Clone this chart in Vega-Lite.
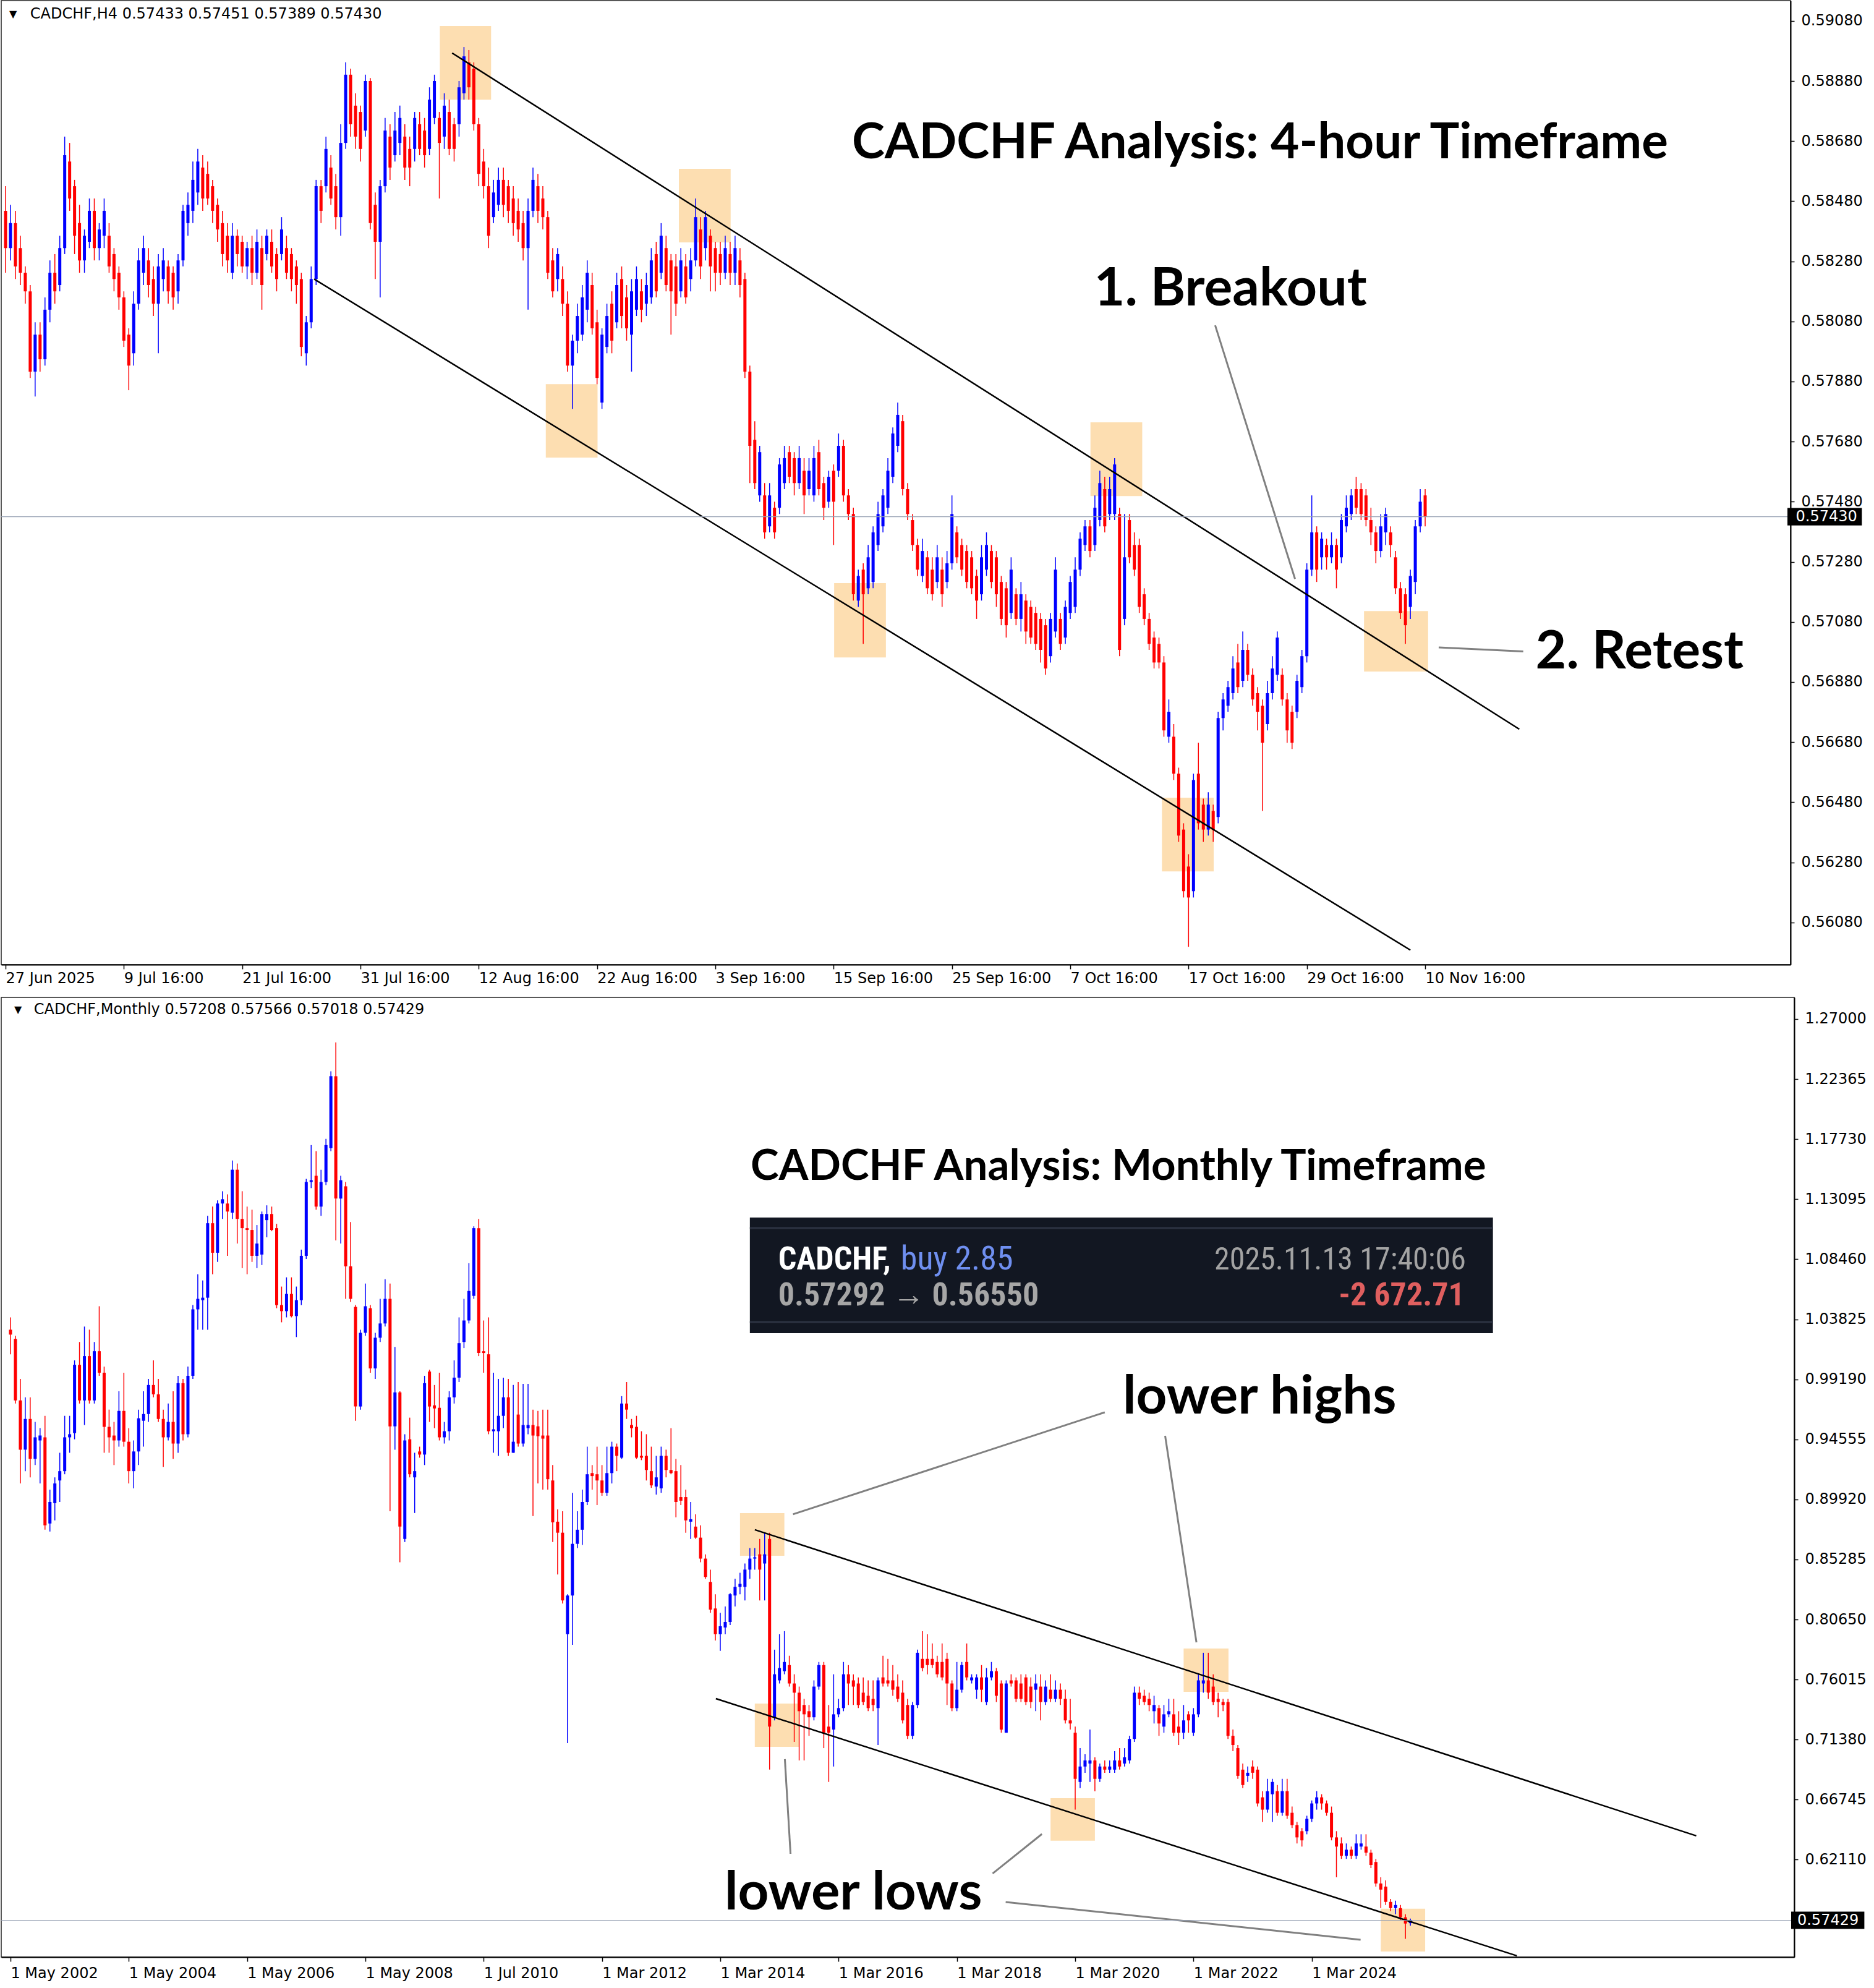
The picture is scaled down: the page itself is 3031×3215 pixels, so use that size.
{
"$schema":"https://vega.github.io/schema/vega-lite/v6.json",
"padding":0,
"background":"white",
"spacing":53,
"bounds":"flush",
"config":{
 "view":{"stroke":"#222222","strokeWidth":1.5},
 "axis":{"grid":false,"labelFont":"DejaVu Sans","labelFontSize":24,"labelColor":"#000000","domainColor":"#000000","domainWidth":2,"tickColor":"#000000","tickWidth":1.5,"tickSize":6,"title":null,"labelOverlap":false}
},
"datasets":{
"h4":[
{"i":0,"o":0.58448,"h":0.5853,"l":0.58242,"c":0.58324},
{"i":1,"o":0.58324,"h":0.58468,"l":0.58283,"c":0.58407},
{"i":2,"o":0.58407,"h":0.58448,"l":0.58221,"c":0.58263},
{"i":3,"o":0.58324,"h":0.58365,"l":0.58201,"c":0.58242},
{"i":4,"o":0.58242,"h":0.58263,"l":0.58139,"c":0.5818},
{"i":5,"o":0.5818,"h":0.58201,"l":0.57892,"c":0.57913},
{"i":6,"o":0.57913,"h":0.58077,"l":0.5783,"c":0.58036},
{"i":7,"o":0.58036,"h":0.58077,"l":0.57913,"c":0.57954},
{"i":8,"o":0.57954,"h":0.5816,"l":0.57933,"c":0.58119},
{"i":9,"o":0.58119,"h":0.58283,"l":0.58077,"c":0.58242},
{"i":10,"o":0.58242,"h":0.58304,"l":0.58139,"c":0.5818},
{"i":11,"o":0.58201,"h":0.58365,"l":0.5818,"c":0.58324},
{"i":12,"o":0.58324,"h":0.58695,"l":0.58304,"c":0.58633},
{"i":13,"o":0.58612,"h":0.58674,"l":0.58448,"c":0.58489},
{"i":14,"o":0.5853,"h":0.58551,"l":0.58304,"c":0.58365},
{"i":15,"o":0.58407,"h":0.58468,"l":0.58242,"c":0.58283},
{"i":16,"o":0.58283,"h":0.58386,"l":0.58242,"c":0.58365},
{"i":17,"o":0.58345,"h":0.58489,"l":0.58324,"c":0.58448},
{"i":18,"o":0.58448,"h":0.58489,"l":0.58283,"c":0.58324},
{"i":19,"o":0.58324,"h":0.58407,"l":0.58283,"c":0.58386},
{"i":20,"o":0.58365,"h":0.58489,"l":0.58324,"c":0.58448},
{"i":21,"o":0.58365,"h":0.58407,"l":0.58242,"c":0.58263},
{"i":22,"o":0.58304,"h":0.58324,"l":0.5818,"c":0.58221},
{"i":23,"o":0.58242,"h":0.58263,"l":0.58119,"c":0.5816},
{"i":24,"o":0.5816,"h":0.5818,"l":0.57995,"c":0.58016},
{"i":25,"o":0.58036,"h":0.58057,"l":0.57851,"c":0.57933},
{"i":26,"o":0.57974,"h":0.5818,"l":0.57933,"c":0.58139},
{"i":27,"o":0.58139,"h":0.58324,"l":0.58119,"c":0.58283},
{"i":28,"o":0.58242,"h":0.58365,"l":0.58201,"c":0.58324},
{"i":29,"o":0.58283,"h":0.58324,"l":0.5816,"c":0.58201},
{"i":30,"o":0.58221,"h":0.58263,"l":0.58098,"c":0.58139},
{"i":31,"o":0.58139,"h":0.58304,"l":0.57974,"c":0.58263},
{"i":32,"o":0.58221,"h":0.58324,"l":0.5818,"c":0.58283},
{"i":33,"o":0.58263,"h":0.58283,"l":0.58139,"c":0.5818},
{"i":34,"o":0.58242,"h":0.58263,"l":0.58119,"c":0.5816},
{"i":35,"o":0.5818,"h":0.58304,"l":0.58139,"c":0.58283},
{"i":36,"o":0.58283,"h":0.58468,"l":0.58263,"c":0.58448},
{"i":37,"o":0.58407,"h":0.58509,"l":0.58365,"c":0.58468},
{"i":38,"o":0.58448,"h":0.58612,"l":0.58407,"c":0.58551},
{"i":39,"o":0.58509,"h":0.58654,"l":0.58468,"c":0.58612},
{"i":40,"o":0.58592,"h":0.58633,"l":0.58448,"c":0.58489},
{"i":41,"o":0.58571,"h":0.58612,"l":0.58468,"c":0.58489},
{"i":42,"o":0.5853,"h":0.58551,"l":0.58407,"c":0.58448},
{"i":43,"o":0.58468,"h":0.58489,"l":0.58345,"c":0.58386},
{"i":44,"o":0.58407,"h":0.58448,"l":0.58263,"c":0.58304},
{"i":45,"o":0.58365,"h":0.58407,"l":0.58242,"c":0.58283},
{"i":46,"o":0.58242,"h":0.58407,"l":0.58221,"c":0.58365},
{"i":47,"o":0.58365,"h":0.58386,"l":0.58263,"c":0.58304},
{"i":48,"o":0.58345,"h":0.58365,"l":0.58242,"c":0.58263},
{"i":49,"o":0.58263,"h":0.58345,"l":0.58221,"c":0.58324},
{"i":50,"o":0.58324,"h":0.58365,"l":0.58201,"c":0.58242},
{"i":51,"o":0.58242,"h":0.58386,"l":0.58221,"c":0.58345},
{"i":52,"o":0.58324,"h":0.58365,"l":0.58119,"c":0.58201},
{"i":53,"o":0.58304,"h":0.58386,"l":0.58283,"c":0.58365},
{"i":54,"o":0.58345,"h":0.58386,"l":0.58242,"c":0.58263},
{"i":55,"o":0.58304,"h":0.58324,"l":0.5818,"c":0.58221},
{"i":56,"o":0.58304,"h":0.58427,"l":0.58283,"c":0.58386},
{"i":57,"o":0.58324,"h":0.58365,"l":0.58221,"c":0.58242},
{"i":58,"o":0.58304,"h":0.58324,"l":0.5818,"c":0.58221},
{"i":59,"o":0.58263,"h":0.58283,"l":0.58139,"c":0.58201},
{"i":60,"o":0.58221,"h":0.58242,"l":0.57964,"c":0.57995},
{"i":61,"o":0.57974,"h":0.58098,"l":0.57933,"c":0.58077},
{"i":62,"o":0.58077,"h":0.58263,"l":0.58057,"c":0.58221},
{"i":63,"o":0.58221,"h":0.58551,"l":0.58201,"c":0.5853},
{"i":64,"o":0.5853,"h":0.58551,"l":0.58407,"c":0.58448},
{"i":65,"o":0.5853,"h":0.58695,"l":0.58509,"c":0.58654},
{"i":66,"o":0.58592,"h":0.58633,"l":0.58468,"c":0.58489},
{"i":67,"o":0.5853,"h":0.58571,"l":0.58386,"c":0.58427},
{"i":68,"o":0.58427,"h":0.58736,"l":0.58365,"c":0.58674},
{"i":69,"o":0.58674,"h":0.58942,"l":0.58654,"c":0.58901},
{"i":70,"o":0.58901,"h":0.58921,"l":0.58695,"c":0.58736},
{"i":71,"o":0.58798,"h":0.58839,"l":0.58654,"c":0.58695},
{"i":72,"o":0.58777,"h":0.58798,"l":0.58612,"c":0.58654},
{"i":73,"o":0.58715,"h":0.58901,"l":0.58695,"c":0.5888},
{"i":74,"o":0.5888,"h":0.5889,"l":0.58386,"c":0.58407},
{"i":75,"o":0.58468,"h":0.58509,"l":0.58221,"c":0.58345},
{"i":76,"o":0.58345,"h":0.58551,"l":0.5816,"c":0.5853},
{"i":77,"o":0.5853,"h":0.58757,"l":0.58509,"c":0.58715},
{"i":78,"o":0.58695,"h":0.58736,"l":0.58551,"c":0.58592},
{"i":79,"o":0.58633,"h":0.58777,"l":0.58612,"c":0.58715},
{"i":80,"o":0.58674,"h":0.58798,"l":0.58633,"c":0.58757},
{"i":81,"o":0.58695,"h":0.58736,"l":0.58551,"c":0.58592},
{"i":82,"o":0.58654,"h":0.58695,"l":0.5853,"c":0.58592},
{"i":83,"o":0.58654,"h":0.58777,"l":0.58612,"c":0.58757},
{"i":84,"o":0.58736,"h":0.58777,"l":0.58633,"c":0.58654},
{"i":85,"o":0.58715,"h":0.58757,"l":0.58592,"c":0.58633},
{"i":86,"o":0.58654,"h":0.58859,"l":0.58633,"c":0.58818},
{"i":87,"o":0.58757,"h":0.58901,"l":0.58736,"c":0.5888},
{"i":88,"o":0.58757,"h":0.58777,"l":0.58489,"c":0.58674},
{"i":89,"o":0.58695,"h":0.58839,"l":0.58654,"c":0.58798},
{"i":90,"o":0.58777,"h":0.58818,"l":0.58633,"c":0.58654},
{"i":91,"o":0.58736,"h":0.58757,"l":0.58612,"c":0.58654},
{"i":92,"o":0.58736,"h":0.5888,"l":0.58695,"c":0.58859},
{"i":93,"o":0.58839,"h":0.58993,"l":0.58818,"c":0.58962},
{"i":94,"o":0.58942,"h":0.58983,"l":0.58818,"c":0.58859},
{"i":95,"o":0.58921,"h":0.58942,"l":0.58715,"c":0.58736},
{"i":96,"o":0.58736,"h":0.58757,"l":0.5853,"c":0.58571},
{"i":97,"o":0.58612,"h":0.58654,"l":0.58489,"c":0.5853},
{"i":98,"o":0.5853,"h":0.58592,"l":0.58324,"c":0.58365},
{"i":99,"o":0.58427,"h":0.58551,"l":0.58407,"c":0.58509},
{"i":100,"o":0.58468,"h":0.58592,"l":0.58448,"c":0.58551},
{"i":101,"o":0.58551,"h":0.58592,"l":0.58427,"c":0.58468},
{"i":102,"o":0.5853,"h":0.58551,"l":0.58407,"c":0.58448},
{"i":103,"o":0.58489,"h":0.5853,"l":0.58365,"c":0.58407},
{"i":104,"o":0.58448,"h":0.58489,"l":0.58345,"c":0.58386},
{"i":105,"o":0.58407,"h":0.58448,"l":0.58283,"c":0.58324},
{"i":106,"o":0.58324,"h":0.58489,"l":0.58119,"c":0.58448},
{"i":107,"o":0.58448,"h":0.58592,"l":0.58427,"c":0.58551},
{"i":108,"o":0.5853,"h":0.58571,"l":0.58407,"c":0.58448},
{"i":109,"o":0.58489,"h":0.5853,"l":0.58386,"c":0.58427},
{"i":110,"o":0.58427,"h":0.58448,"l":0.58221,"c":0.58242},
{"i":111,"o":0.58283,"h":0.58324,"l":0.5816,"c":0.5818},
{"i":112,"o":0.58221,"h":0.58324,"l":0.5818,"c":0.58304},
{"i":113,"o":0.58221,"h":0.58263,"l":0.58098,"c":0.58139},
{"i":114,"o":0.58139,"h":0.5818,"l":0.57913,"c":0.57933},
{"i":115,"o":0.57933,"h":0.58036,"l":0.57789,"c":0.58016},
{"i":116,"o":0.58016,"h":0.58139,"l":0.57974,"c":0.58098},
{"i":117,"o":0.58036,"h":0.58201,"l":0.58016,"c":0.5816},
{"i":118,"o":0.58119,"h":0.58283,"l":0.58077,"c":0.58242},
{"i":119,"o":0.58201,"h":0.58242,"l":0.58036,"c":0.58057},
{"i":120,"o":0.58077,"h":0.58119,"l":0.57871,"c":0.57892},
{"i":121,"o":0.5781,"h":0.58057,"l":0.57789,"c":0.58036},
{"i":122,"o":0.57995,"h":0.58139,"l":0.57974,"c":0.58098},
{"i":123,"o":0.58139,"h":0.5818,"l":0.57974,"c":0.58016},
{"i":124,"o":0.58077,"h":0.58242,"l":0.58057,"c":0.58201},
{"i":125,"o":0.58221,"h":0.58263,"l":0.58057,"c":0.58098},
{"i":126,"o":0.5816,"h":0.58201,"l":0.58016,"c":0.58057},
{"i":127,"o":0.58036,"h":0.58221,"l":0.57913,"c":0.5818},
{"i":128,"o":0.58119,"h":0.58263,"l":0.58098,"c":0.58221},
{"i":129,"o":0.5818,"h":0.58221,"l":0.58077,"c":0.58119},
{"i":130,"o":0.58139,"h":0.58242,"l":0.58098,"c":0.58201},
{"i":131,"o":0.5816,"h":0.58324,"l":0.58139,"c":0.58283},
{"i":132,"o":0.58304,"h":0.58345,"l":0.5816,"c":0.5818},
{"i":133,"o":0.58242,"h":0.58407,"l":0.58221,"c":0.58365},
{"i":134,"o":0.58324,"h":0.58365,"l":0.5818,"c":0.58201},
{"i":135,"o":0.58283,"h":0.58304,"l":0.58036,"c":0.5818},
{"i":136,"o":0.58263,"h":0.58304,"l":0.58098,"c":0.58139},
{"i":137,"o":0.5818,"h":0.58324,"l":0.5816,"c":0.58283},
{"i":138,"o":0.58263,"h":0.58304,"l":0.58139,"c":0.5816},
{"i":139,"o":0.58221,"h":0.58324,"l":0.5818,"c":0.58283},
{"i":140,"o":0.58283,"h":0.58489,"l":0.58263,"c":0.58427},
{"i":141,"o":0.58386,"h":0.58427,"l":0.58221,"c":0.58263},
{"i":142,"o":0.58324,"h":0.58448,"l":0.58283,"c":0.58427},
{"i":143,"o":0.58365,"h":0.58386,"l":0.5818,"c":0.58263},
{"i":144,"o":0.58324,"h":0.58345,"l":0.5818,"c":0.58242},
{"i":145,"o":0.58304,"h":0.58345,"l":0.58201,"c":0.58242},
{"i":146,"o":0.58242,"h":0.58365,"l":0.58221,"c":0.58324},
{"i":147,"o":0.58304,"h":0.58345,"l":0.58201,"c":0.58242},
{"i":148,"o":0.58242,"h":0.58365,"l":0.58201,"c":0.58324},
{"i":149,"o":0.58283,"h":0.58324,"l":0.5816,"c":0.58201},
{"i":150,"o":0.58221,"h":0.58242,"l":0.57892,"c":0.57913},
{"i":151,"o":0.57913,"h":0.57933,"l":0.57542,"c":0.57666},
{"i":152,"o":0.57686,"h":0.57748,"l":0.57522,"c":0.57542},
{"i":153,"o":0.57501,"h":0.57666,"l":0.5748,"c":0.57645},
{"i":154,"o":0.57501,"h":0.57542,"l":0.57357,"c":0.57378},
{"i":155,"o":0.57398,"h":0.57542,"l":0.57378,"c":0.57501},
{"i":156,"o":0.5746,"h":0.5748,"l":0.57357,"c":0.57378},
{"i":157,"o":0.5746,"h":0.57625,"l":0.57439,"c":0.57604},
{"i":158,"o":0.57542,"h":0.57666,"l":0.57522,"c":0.57625},
{"i":159,"o":0.57645,"h":0.57666,"l":0.57542,"c":0.57563},
{"i":160,"o":0.57625,"h":0.57645,"l":0.57501,"c":0.57542},
{"i":161,"o":0.57542,"h":0.57666,"l":0.57522,"c":0.57625},
{"i":162,"o":0.57583,"h":0.57625,"l":0.57439,"c":0.57501},
{"i":163,"o":0.57522,"h":0.57625,"l":0.57501,"c":0.57583},
{"i":164,"o":0.57501,"h":0.57666,"l":0.5748,"c":0.57625},
{"i":165,"o":0.57645,"h":0.57686,"l":0.57501,"c":0.57522},
{"i":166,"o":0.57542,"h":0.57563,"l":0.57419,"c":0.5746},
{"i":167,"o":0.5748,"h":0.57583,"l":0.5746,"c":0.57563},
{"i":168,"o":0.57583,"h":0.57604,"l":0.57336,"c":0.5748},
{"i":169,"o":0.57583,"h":0.57707,"l":0.57563,"c":0.57666},
{"i":170,"o":0.57666,"h":0.57686,"l":0.5748,"c":0.57501},
{"i":171,"o":0.57501,"h":0.57522,"l":0.57419,"c":0.57439},
{"i":172,"o":0.57439,"h":0.5746,"l":0.57151,"c":0.57172},
{"i":173,"o":0.57151,"h":0.57254,"l":0.5713,"c":0.57233},
{"i":174,"o":0.57254,"h":0.57275,"l":0.57007,"c":0.57172},
{"i":175,"o":0.57192,"h":0.57336,"l":0.57172,"c":0.57295},
{"i":176,"o":0.57213,"h":0.57398,"l":0.57192,"c":0.57378},
{"i":177,"o":0.57336,"h":0.5748,"l":0.57316,"c":0.57439},
{"i":178,"o":0.57398,"h":0.57522,"l":0.57378,"c":0.57501},
{"i":179,"o":0.5746,"h":0.57625,"l":0.57439,"c":0.57583},
{"i":180,"o":0.57563,"h":0.57727,"l":0.57542,"c":0.57707},
{"i":181,"o":0.57666,"h":0.5781,"l":0.57645,"c":0.57769},
{"i":182,"o":0.57748,"h":0.57769,"l":0.57501,"c":0.57522},
{"i":183,"o":0.57522,"h":0.57542,"l":0.57419,"c":0.57439},
{"i":184,"o":0.57419,"h":0.57439,"l":0.57316,"c":0.57336},
{"i":185,"o":0.57336,"h":0.57357,"l":0.57233,"c":0.57254},
{"i":186,"o":0.57233,"h":0.57357,"l":0.57213,"c":0.57316},
{"i":187,"o":0.57295,"h":0.57316,"l":0.57172,"c":0.57192},
{"i":188,"o":0.57254,"h":0.57295,"l":0.57151,"c":0.57172},
{"i":189,"o":0.57213,"h":0.57336,"l":0.57192,"c":0.57295},
{"i":190,"o":0.57254,"h":0.57295,"l":0.5713,"c":0.57172},
{"i":191,"o":0.57213,"h":0.57316,"l":0.57192,"c":0.57275},
{"i":192,"o":0.57275,"h":0.57501,"l":0.57254,"c":0.57439},
{"i":193,"o":0.57378,"h":0.57398,"l":0.57275,"c":0.57295},
{"i":194,"o":0.57336,"h":0.57357,"l":0.57233,"c":0.57254},
{"i":195,"o":0.57316,"h":0.57336,"l":0.57192,"c":0.57213},
{"i":196,"o":0.57295,"h":0.57316,"l":0.57172,"c":0.57192},
{"i":197,"o":0.57233,"h":0.57254,"l":0.5709,"c":0.57151},
{"i":198,"o":0.57172,"h":0.57336,"l":0.57151,"c":0.57295},
{"i":199,"o":0.57254,"h":0.57378,"l":0.57233,"c":0.57336},
{"i":200,"o":0.57316,"h":0.57336,"l":0.57192,"c":0.57213},
{"i":201,"o":0.57295,"h":0.57316,"l":0.5713,"c":0.57172},
{"i":202,"o":0.57213,"h":0.57233,"l":0.57069,"c":0.5709},
{"i":203,"o":0.57192,"h":0.57213,"l":0.57028,"c":0.57069},
{"i":204,"o":0.5711,"h":0.57295,"l":0.5709,"c":0.57254},
{"i":205,"o":0.57172,"h":0.57192,"l":0.57069,"c":0.5709},
{"i":206,"o":0.5709,"h":0.57213,"l":0.57048,"c":0.57172},
{"i":207,"o":0.57151,"h":0.57172,"l":0.57007,"c":0.57048},
{"i":208,"o":0.5713,"h":0.57151,"l":0.57007,"c":0.57028},
{"i":209,"o":0.5711,"h":0.5713,"l":0.56987,"c":0.57007},
{"i":210,"o":0.5709,"h":0.5711,"l":0.56945,"c":0.56987},
{"i":211,"o":0.57069,"h":0.5709,"l":0.56904,"c":0.56925},
{"i":212,"o":0.56966,"h":0.5711,"l":0.56945,"c":0.5709},
{"i":213,"o":0.57048,"h":0.57295,"l":0.57028,"c":0.57254},
{"i":214,"o":0.5709,"h":0.5711,"l":0.56987,"c":0.57007},
{"i":215,"o":0.57028,"h":0.57151,"l":0.57007,"c":0.5713},
{"i":216,"o":0.5711,"h":0.57233,"l":0.5709,"c":0.57213},
{"i":217,"o":0.5713,"h":0.57295,"l":0.5711,"c":0.57254},
{"i":218,"o":0.57254,"h":0.57378,"l":0.57233,"c":0.57357},
{"i":219,"o":0.57336,"h":0.57419,"l":0.57316,"c":0.57398},
{"i":220,"o":0.57398,"h":0.57419,"l":0.57295,"c":0.57316},
{"i":221,"o":0.57336,"h":0.57501,"l":0.57316,"c":0.5746},
{"i":222,"o":0.57419,"h":0.57583,"l":0.57398,"c":0.57542},
{"i":223,"o":0.57522,"h":0.57563,"l":0.57378,"c":0.57398},
{"i":224,"o":0.57439,"h":0.57563,"l":0.57419,"c":0.57522},
{"i":225,"o":0.57439,"h":0.57625,"l":0.57419,"c":0.57604},
{"i":226,"o":0.57439,"h":0.5746,"l":0.56966,"c":0.56987},
{"i":227,"o":0.5709,"h":0.57439,"l":0.57069,"c":0.57295},
{"i":228,"o":0.57419,"h":0.57439,"l":0.57275,"c":0.57295},
{"i":229,"o":0.57336,"h":0.57378,"l":0.57233,"c":0.57254},
{"i":230,"o":0.57336,"h":0.57357,"l":0.5711,"c":0.5713},
{"i":231,"o":0.57172,"h":0.57192,"l":0.57069,"c":0.5709},
{"i":232,"o":0.5709,"h":0.5711,"l":0.56987,"c":0.57007},
{"i":233,"o":0.57028,"h":0.57048,"l":0.56925,"c":0.56945},
{"i":234,"o":0.57007,"h":0.57028,"l":0.56925,"c":0.56945},
{"i":235,"o":0.56945,"h":0.56966,"l":0.56698,"c":0.56719},
{"i":236,"o":0.56698,"h":0.56822,"l":0.56678,"c":0.56781},
{"i":237,"o":0.56698,"h":0.5674,"l":0.56554,"c":0.56575},
{"i":238,"o":0.56575,"h":0.56595,"l":0.56348,"c":0.56369},
{"i":239,"o":0.56389,"h":0.5641,"l":0.56163,"c":0.56184},
{"i":240,"o":0.56266,"h":0.56307,"l":0.55999,"c":0.56163},
{"i":241,"o":0.56184,"h":0.56575,"l":0.56163,"c":0.56554},
{"i":242,"o":0.56575,"h":0.56678,"l":0.56389,"c":0.5641},
{"i":243,"o":0.56472,"h":0.56492,"l":0.56348,"c":0.56389},
{"i":244,"o":0.56389,"h":0.56513,"l":0.56369,"c":0.56472},
{"i":245,"o":0.56451,"h":0.56472,"l":0.56348,"c":0.56389},
{"i":246,"o":0.56431,"h":0.56781,"l":0.5641,"c":0.5676},
{"i":247,"o":0.5676,"h":0.56843,"l":0.56719,"c":0.56822},
{"i":248,"o":0.56801,"h":0.56884,"l":0.56781,"c":0.56863},
{"i":249,"o":0.56843,"h":0.56966,"l":0.56822,"c":0.56925},
{"i":250,"o":0.56945,"h":0.57007,"l":0.56843,"c":0.56863},
{"i":251,"o":0.56884,"h":0.57048,"l":0.56863,"c":0.56987},
{"i":252,"o":0.56987,"h":0.57007,"l":0.56884,"c":0.56904},
{"i":253,"o":0.56904,"h":0.56925,"l":0.56801,"c":0.56822},
{"i":254,"o":0.56843,"h":0.56863,"l":0.56719,"c":0.56781},
{"i":255,"o":0.56801,"h":0.56822,"l":0.56451,"c":0.56678},
{"i":256,"o":0.5674,"h":0.56884,"l":0.56719,"c":0.56843},
{"i":257,"o":0.56843,"h":0.56966,"l":0.56822,"c":0.56925},
{"i":258,"o":0.56904,"h":0.57048,"l":0.56884,"c":0.57028},
{"i":259,"o":0.56904,"h":0.56925,"l":0.56801,"c":0.56822},
{"i":260,"o":0.56822,"h":0.56843,"l":0.56678,"c":0.56719},
{"i":261,"o":0.56781,"h":0.56801,"l":0.56657,"c":0.56678},
{"i":262,"o":0.56781,"h":0.56904,"l":0.5676,"c":0.56884},
{"i":263,"o":0.56863,"h":0.56987,"l":0.56843,"c":0.56966},
{"i":264,"o":0.56966,"h":0.57275,"l":0.56945,"c":0.57254},
{"i":265,"o":0.57254,"h":0.57501,"l":0.57233,"c":0.57378},
{"i":266,"o":0.57378,"h":0.57398,"l":0.57213,"c":0.57254},
{"i":267,"o":0.57295,"h":0.57378,"l":0.57254,"c":0.57357},
{"i":268,"o":0.57336,"h":0.57357,"l":0.57254,"c":0.57295},
{"i":269,"o":0.57295,"h":0.57378,"l":0.57275,"c":0.57336},
{"i":270,"o":0.57336,"h":0.57357,"l":0.57192,"c":0.57254},
{"i":271,"o":0.57295,"h":0.57439,"l":0.57275,"c":0.57419},
{"i":272,"o":0.57398,"h":0.57501,"l":0.57378,"c":0.5746},
{"i":273,"o":0.57439,"h":0.57522,"l":0.57419,"c":0.57501},
{"i":274,"o":0.57522,"h":0.57563,"l":0.57439,"c":0.5746},
{"i":275,"o":0.57522,"h":0.57542,"l":0.57419,"c":0.57439},
{"i":276,"o":0.57501,"h":0.57522,"l":0.57398,"c":0.57419},
{"i":277,"o":0.57419,"h":0.5746,"l":0.57336,"c":0.57378},
{"i":278,"o":0.57378,"h":0.57398,"l":0.57275,"c":0.57316},
{"i":279,"o":0.57316,"h":0.57439,"l":0.57295,"c":0.57398},
{"i":280,"o":0.57378,"h":0.5746,"l":0.57336,"c":0.57439},
{"i":281,"o":0.57378,"h":0.57398,"l":0.57295,"c":0.57336},
{"i":282,"o":0.57295,"h":0.57316,"l":0.57172,"c":0.57192},
{"i":283,"o":0.57192,"h":0.57213,"l":0.5709,"c":0.5711},
{"i":284,"o":0.57172,"h":0.57192,"l":0.57007,"c":0.57069},
{"i":285,"o":0.5713,"h":0.57254,"l":0.5709,"c":0.57233},
{"i":286,"o":0.57213,"h":0.57419,"l":0.57172,"c":0.57398},
{"i":287,"o":0.57398,"h":0.57522,"l":0.57378,"c":0.5748},
{"i":288,"o":0.57501,"h":0.57522,"l":0.57398,"c":0.5743}
],
"mn":[
{"i":0,"o":1.0302,"h":1.0397,"l":1.0112,"c":1.0264},
{"i":1,"o":1.0231,"h":1.0255,"l":0.9732,"c":0.9756},
{"i":2,"o":0.9756,"h":0.9922,"l":0.9115,"c":0.9376},
{"i":3,"o":0.9376,"h":0.978,"l":0.921,"c":0.9613},
{"i":4,"o":0.9613,"h":0.978,"l":0.9162,"c":0.9305},
{"i":5,"o":0.9305,"h":0.959,"l":0.9257,"c":0.9471},
{"i":6,"o":0.9447,"h":0.9542,"l":0.9115,"c":0.9485},
{"i":7,"o":0.9471,"h":0.9637,"l":0.8758,"c":0.8792},
{"i":8,"o":0.8806,"h":0.9067,"l":0.8744,"c":0.8972},
{"i":9,"o":0.8963,"h":0.9162,"l":0.883,"c":0.9115},
{"i":10,"o":0.9138,"h":0.9352,"l":0.8972,"c":0.921},
{"i":11,"o":0.921,"h":0.9637,"l":0.9186,"c":0.9471},
{"i":12,"o":0.9471,"h":0.9637,"l":0.9352,"c":0.9495},
{"i":13,"o":0.9504,"h":1.0065,"l":0.9456,"c":1.0031},
{"i":14,"o":1.0031,"h":1.0207,"l":0.9732,"c":0.9756},
{"i":15,"o":0.9756,"h":1.0326,"l":0.9566,"c":1.0098},
{"i":16,"o":1.0098,"h":1.0302,"l":0.9732,"c":0.9756},
{"i":17,"o":0.9756,"h":1.0207,"l":0.9732,"c":1.0136},
{"i":18,"o":1.0136,"h":1.0483,"l":0.9946,"c":0.997},
{"i":19,"o":0.997,"h":1.0017,"l":0.9352,"c":0.9552},
{"i":20,"o":0.9552,"h":0.9685,"l":0.9352,"c":0.9471},
{"i":21,"o":0.9485,"h":0.959,"l":0.9257,"c":0.9447},
{"i":22,"o":0.9447,"h":0.9827,"l":0.9399,"c":0.9675},
{"i":23,"o":0.9675,"h":0.997,"l":0.9399,"c":0.9437},
{"i":24,"o":0.9437,"h":0.9542,"l":0.9115,"c":0.921},
{"i":25,"o":0.921,"h":0.9447,"l":0.9077,"c":0.9362},
{"i":26,"o":0.9362,"h":0.9685,"l":0.9257,"c":0.9618},
{"i":27,"o":0.9599,"h":0.9827,"l":0.9399,"c":0.9651},
{"i":28,"o":0.9651,"h":0.9922,"l":0.959,"c":0.9875},
{"i":29,"o":0.9875,"h":1.0065,"l":0.978,"c":0.9803},
{"i":30,"o":0.9803,"h":0.9922,"l":0.959,"c":0.9613},
{"i":31,"o":0.9613,"h":0.9685,"l":0.9243,"c":0.9471},
{"i":32,"o":0.9471,"h":0.9732,"l":0.9447,"c":0.959},
{"i":33,"o":0.959,"h":0.9827,"l":0.9305,"c":0.9423},
{"i":34,"o":0.9423,"h":0.9946,"l":0.9352,"c":0.9889},
{"i":35,"o":0.9889,"h":0.9922,"l":0.9447,"c":0.9495},
{"i":36,"o":0.9495,"h":1.0017,"l":0.9471,"c":0.9946},
{"i":37,"o":0.9946,"h":1.0492,"l":0.9922,"c":1.0459},
{"i":38,"o":1.0459,"h":1.073,"l":1.0302,"c":1.054},
{"i":39,"o":1.053,"h":1.0682,"l":1.0302,"c":1.0549},
{"i":40,"o":1.0549,"h":1.1181,"l":1.0302,"c":1.1124},
{"i":41,"o":1.1124,"h":1.1252,"l":1.073,"c":1.0896},
{"i":42,"o":1.0896,"h":1.13,"l":1.0825,"c":1.1276},
{"i":43,"o":1.1276,"h":1.1371,"l":1.1157,"c":1.1309},
{"i":44,"o":1.1276,"h":1.1347,"l":1.0872,"c":1.1214},
{"i":45,"o":1.1205,"h":1.1608,"l":1.1157,"c":1.1537},
{"i":46,"o":1.1537,"h":1.1585,"l":1.0967,"c":1.1157},
{"i":47,"o":1.1157,"h":1.1371,"l":1.0777,"c":1.1086},
{"i":48,"o":1.1086,"h":1.1252,"l":1.073,"c":1.1072},
{"i":49,"o":1.1072,"h":1.1228,"l":1.0825,"c":1.0872},
{"i":50,"o":1.0872,"h":1.111,"l":1.0777,"c":1.0967},
{"i":51,"o":1.0882,"h":1.1214,"l":1.0801,"c":1.1195},
{"i":52,"o":1.1148,"h":1.1262,"l":1.1015,"c":1.1195},
{"i":53,"o":1.1195,"h":1.1252,"l":1.1062,"c":1.1072},
{"i":54,"o":1.1086,"h":1.1119,"l":1.0468,"c":1.0492},
{"i":55,"o":1.0492,"h":1.0635,"l":1.0359,"c":1.0445},
{"i":56,"o":1.0445,"h":1.0706,"l":1.0397,"c":1.0578},
{"i":57,"o":1.0578,"h":1.0706,"l":1.0397,"c":1.0407},
{"i":58,"o":1.0407,"h":1.0635,"l":1.0245,"c":1.053},
{"i":59,"o":1.053,"h":1.092,"l":1.0492,"c":1.0872},
{"i":60,"o":1.0872,"h":1.1466,"l":1.0848,"c":1.1442},
{"i":61,"o":1.1442,"h":1.1727,"l":1.1395,"c":1.1456},
{"i":62,"o":1.149,"h":1.168,"l":1.1228,"c":1.1252},
{"i":63,"o":1.1252,"h":1.1537,"l":1.1181,"c":1.1442},
{"i":64,"o":1.1442,"h":1.1775,"l":1.1418,"c":1.1727},
{"i":65,"o":1.1703,"h":1.2297,"l":1.168,"c":1.2259},
{"i":66,"o":1.2259,"h":1.252,"l":1.0991,"c":1.1314},
{"i":67,"o":1.1314,"h":1.149,"l":1.0967,"c":1.1456},
{"i":68,"o":1.1409,"h":1.1442,"l":1.054,"c":1.0791},
{"i":69,"o":1.0791,"h":1.1133,"l":1.0516,"c":1.054},
{"i":70,"o":1.0478,"h":1.0492,"l":0.9599,"c":0.9709},
{"i":71,"o":0.9709,"h":1.0302,"l":0.9685,"c":1.0278},
{"i":72,"o":1.0278,"h":1.0658,"l":1.0255,"c":1.0483},
{"i":73,"o":1.0468,"h":1.0492,"l":0.997,"c":1.0003},
{"i":74,"o":1.0003,"h":1.0278,"l":0.9922,"c":1.024},
{"i":75,"o":1.024,"h":1.054,"l":1.0207,"c":1.035},
{"i":76,"o":1.035,"h":1.0692,"l":1.0326,"c":1.054},
{"i":77,"o":1.054,"h":1.0658,"l":0.8901,"c":0.9556},
{"i":78,"o":0.9556,"h":1.0169,"l":0.9376,"c":0.9818},
{"i":79,"o":0.9818,"h":0.9827,"l":0.8507,"c":0.8782},
{"i":80,"o":0.8687,"h":0.9495,"l":0.8663,"c":0.9447},
{"i":81,"o":0.9456,"h":0.9623,"l":0.9162,"c":0.9186},
{"i":82,"o":0.9162,"h":0.9352,"l":0.8887,"c":0.921},
{"i":83,"o":0.9362,"h":0.9399,"l":0.9314,"c":0.9338},
{"i":84,"o":0.9338,"h":0.9946,"l":0.9257,"c":0.9889},
{"i":85,"o":0.9979,"h":0.9993,"l":0.959,"c":0.9709},
{"i":86,"o":0.9718,"h":0.9875,"l":0.9542,"c":0.9694},
{"i":87,"o":0.9699,"h":0.997,"l":0.9447,"c":0.9471},
{"i":88,"o":0.9471,"h":0.959,"l":0.9423,"c":0.9518},
{"i":89,"o":0.9518,"h":0.9827,"l":0.9447,"c":0.978},
{"i":90,"o":0.978,"h":1.0065,"l":0.9732,"c":0.9932},
{"i":91,"o":0.9932,"h":1.0397,"l":0.9898,"c":1.0198},
{"i":92,"o":1.0207,"h":1.054,"l":1.016,"c":1.0373},
{"i":93,"o":1.0373,"h":1.0815,"l":1.035,"c":1.0601},
{"i":94,"o":1.0563,"h":1.11,"l":1.054,"c":1.1086},
{"i":95,"o":1.1086,"h":1.1157,"l":1.0098,"c":1.0122},
{"i":96,"o":1.0136,"h":1.0373,"l":0.997,"c":1.0122},
{"i":97,"o":1.0112,"h":1.0397,"l":0.9495,"c":0.9518},
{"i":98,"o":0.9518,"h":0.997,"l":0.9352,"c":0.9533},
{"i":99,"o":0.9518,"h":0.9922,"l":0.9328,"c":0.9637},
{"i":100,"o":0.9637,"h":0.9932,"l":0.9542,"c":0.978},
{"i":101,"o":0.978,"h":0.9922,"l":0.9328,"c":0.9352},
{"i":102,"o":0.9352,"h":0.9875,"l":0.9352,"c":0.9437},
{"i":103,"o":0.9647,"h":0.9898,"l":0.9399,"c":0.9423},
{"i":104,"o":0.9423,"h":0.9884,"l":0.9399,"c":0.9566},
{"i":105,"o":0.9542,"h":0.9884,"l":0.9495,"c":0.9566},
{"i":106,"o":0.9566,"h":0.9685,"l":0.8863,"c":0.9485},
{"i":107,"o":0.9556,"h":0.9675,"l":0.9115,"c":0.948},
{"i":108,"o":0.9485,"h":0.9685,"l":0.9067,"c":0.9461},
{"i":109,"o":0.9485,"h":0.9685,"l":0.9067,"c":0.9148},
{"i":110,"o":0.9138,"h":0.9257,"l":0.8663,"c":0.8815},
{"i":111,"o":0.882,"h":0.8915,"l":0.8412,"c":0.8735},
{"i":112,"o":0.8735,"h":0.8901,"l":0.8188,"c":0.8212},
{"i":113,"o":0.7951,"h":0.826,"l":0.711,"c":0.825},
{"i":114,"o":0.825,"h":0.9043,"l":0.787,"c":0.8649},
{"i":115,"o":0.8649,"h":0.8901,"l":0.8616,"c":0.8758},
{"i":116,"o":0.8758,"h":0.9067,"l":0.864,"c":0.8972},
{"i":117,"o":0.8972,"h":0.9399,"l":0.8948,"c":0.9186},
{"i":118,"o":0.9195,"h":0.9257,"l":0.9067,"c":0.9172},
{"i":119,"o":0.9186,"h":0.9399,"l":0.8948,"c":0.9138},
{"i":120,"o":0.9138,"h":0.9257,"l":0.902,"c":0.9043},
{"i":121,"o":0.9043,"h":0.9399,"l":0.902,"c":0.9195},
{"i":122,"o":0.9195,"h":0.9437,"l":0.9115,"c":0.9399},
{"i":123,"o":0.9399,"h":0.9423,"l":0.921,"c":0.9328},
{"i":124,"o":0.9314,"h":0.9789,"l":0.9305,"c":0.9732},
{"i":125,"o":0.9732,"h":0.9898,"l":0.9613,"c":0.9685},
{"i":126,"o":0.9566,"h":0.9613,"l":0.9471,"c":0.9542},
{"i":127,"o":0.9552,"h":0.9637,"l":0.9305,"c":0.9314},
{"i":128,"o":0.9328,"h":0.9518,"l":0.9295,"c":0.9314},
{"i":129,"o":0.9328,"h":0.9495,"l":0.9138,"c":0.9219},
{"i":130,"o":0.921,"h":0.9399,"l":0.9081,"c":0.91},
{"i":131,"o":0.9091,"h":0.9328,"l":0.9029,"c":0.9162},
{"i":132,"o":0.9077,"h":0.9399,"l":0.9043,"c":0.9328},
{"i":133,"o":0.9328,"h":0.9376,"l":0.9162,"c":0.9219},
{"i":134,"o":0.9219,"h":0.9542,"l":0.9186,"c":0.9195},
{"i":135,"o":0.921,"h":0.9305,"l":0.8854,"c":0.8972},
{"i":136,"o":0.901,"h":0.9257,"l":0.8948,"c":0.8982},
{"i":137,"o":0.901,"h":0.9067,"l":0.8735,"c":0.883},
{"i":138,"o":0.882,"h":0.8972,"l":0.8687,"c":0.8839},
{"i":139,"o":0.8782,"h":0.8877,"l":0.8687,"c":0.8697},
{"i":140,"o":0.8697,"h":0.8792,"l":0.8507,"c":0.8535},
{"i":141,"o":0.8535,"h":0.8568,"l":0.8379,"c":0.8393},
{"i":142,"o":0.8355,"h":0.845,"l":0.8117,"c":0.8141},
{"i":143,"o":0.815,"h":0.826,"l":0.7903,"c":0.7951},
{"i":144,"o":0.7951,"h":0.8117,"l":0.7823,"c":0.8013},
{"i":145,"o":0.8003,"h":0.8165,"l":0.7951,"c":0.8046},
{"i":146,"o":0.8046,"h":0.8269,"l":0.8022,"c":0.826},
{"i":147,"o":0.825,"h":0.8379,"l":0.8165,"c":0.8317},
{"i":148,"o":0.8317,"h":0.8426,"l":0.826,"c":0.834},
{"i":149,"o":0.8317,"h":0.8497,"l":0.8212,"c":0.845},
{"i":150,"o":0.845,"h":0.8616,"l":0.8379,"c":0.8535},
{"i":151,"o":0.8535,"h":0.8616,"l":0.845,"c":0.8545},
{"i":152,"o":0.8568,"h":0.8687,"l":0.8212,"c":0.845},
{"i":153,"o":0.8497,"h":0.8735,"l":0.8212,"c":0.8568},
{"i":154,"o":0.8687,"h":0.8735,"l":0.6906,"c":0.7238},
{"i":155,"o":0.731,"h":0.7832,"l":0.7286,"c":0.7642},
{"i":156,"o":0.7595,"h":0.7951,"l":0.7571,"c":0.769},
{"i":157,"o":0.7666,"h":0.7975,"l":0.7642,"c":0.7737},
{"i":158,"o":0.7713,"h":0.7785,"l":0.7547,"c":0.7571},
{"i":159,"o":0.7571,"h":0.7642,"l":0.712,"c":0.75},
{"i":160,"o":0.75,"h":0.7547,"l":0.6977,"c":0.7357},
{"i":161,"o":0.7405,"h":0.7452,"l":0.6977,"c":0.7333},
{"i":162,"o":0.7357,"h":0.7405,"l":0.7167,"c":0.731},
{"i":163,"o":0.731,"h":0.7595,"l":0.7286,"c":0.7547},
{"i":164,"o":0.7547,"h":0.7737,"l":0.7523,"c":0.7713},
{"i":165,"o":0.7713,"h":0.7737,"l":0.7072,"c":0.7191},
{"i":166,"o":0.7238,"h":0.7405,"l":0.6811,"c":0.7191},
{"i":167,"o":0.7215,"h":0.7642,"l":0.693,"c":0.7333},
{"i":168,"o":0.7333,"h":0.7452,"l":0.731,"c":0.7381},
{"i":169,"o":0.7381,"h":0.7737,"l":0.7357,"c":0.7642},
{"i":170,"o":0.7642,"h":0.7713,"l":0.7405,"c":0.7571},
{"i":171,"o":0.7595,"h":0.7642,"l":0.7405,"c":0.7547},
{"i":172,"o":0.7571,"h":0.7618,"l":0.7381,"c":0.7405},
{"i":173,"o":0.75,"h":0.7618,"l":0.7405,"c":0.7428},
{"i":174,"o":0.7476,"h":0.7595,"l":0.7357,"c":0.7381},
{"i":175,"o":0.7452,"h":0.7595,"l":0.7357,"c":0.7405},
{"i":176,"o":0.7381,"h":0.7618,"l":0.7096,"c":0.7595},
{"i":177,"o":0.7618,"h":0.7785,"l":0.7547,"c":0.7571},
{"i":178,"o":0.7595,"h":0.7761,"l":0.7547,"c":0.7571},
{"i":179,"o":0.7595,"h":0.7713,"l":0.7476,"c":0.7523},
{"i":180,"o":0.7547,"h":0.7642,"l":0.7428,"c":0.7452},
{"i":181,"o":0.75,"h":0.7595,"l":0.7262,"c":0.7286},
{"i":182,"o":0.7405,"h":0.7452,"l":0.7143,"c":0.7167},
{"i":183,"o":0.7167,"h":0.7428,"l":0.7143,"c":0.7405},
{"i":184,"o":0.7405,"h":0.7832,"l":0.7381,"c":0.7808},
{"i":185,"o":0.7761,"h":0.7975,"l":0.7666,"c":0.769},
{"i":186,"o":0.7761,"h":0.7951,"l":0.7642,"c":0.7713},
{"i":187,"o":0.7761,"h":0.788,"l":0.769,"c":0.7713},
{"i":188,"o":0.7737,"h":0.7785,"l":0.7618,"c":0.7642},
{"i":189,"o":0.7737,"h":0.788,"l":0.7595,"c":0.7618},
{"i":190,"o":0.7761,"h":0.7808,"l":0.7405,"c":0.7571},
{"i":191,"o":0.7571,"h":0.7595,"l":0.7357,"c":0.7381},
{"i":192,"o":0.7381,"h":0.7737,"l":0.7357,"c":0.7523},
{"i":193,"o":0.7523,"h":0.7737,"l":0.75,"c":0.7713},
{"i":194,"o":0.7737,"h":0.788,"l":0.7595,"c":0.7618},
{"i":195,"o":0.7595,"h":0.7642,"l":0.7571,"c":0.7618},
{"i":196,"o":0.7523,"h":0.7642,"l":0.7452,"c":0.7618},
{"i":197,"o":0.7618,"h":0.7713,"l":0.7428,"c":0.7523},
{"i":198,"o":0.7428,"h":0.769,"l":0.7405,"c":0.7618},
{"i":199,"o":0.7618,"h":0.7737,"l":0.7595,"c":0.7666},
{"i":200,"o":0.7666,"h":0.769,"l":0.7428,"c":0.7476},
{"i":201,"o":0.7571,"h":0.7595,"l":0.7191,"c":0.7215},
{"i":202,"o":0.7191,"h":0.7595,"l":0.7191,"c":0.7571},
{"i":203,"o":0.7595,"h":0.7642,"l":0.7547,"c":0.7571},
{"i":204,"o":0.7595,"h":0.7618,"l":0.7428,"c":0.7452},
{"i":205,"o":0.7571,"h":0.7642,"l":0.7428,"c":0.7452},
{"i":206,"o":0.7618,"h":0.7642,"l":0.7405,"c":0.7428},
{"i":207,"o":0.7547,"h":0.7618,"l":0.7381,"c":0.7428},
{"i":208,"o":0.7523,"h":0.7642,"l":0.7357,"c":0.7571},
{"i":209,"o":0.7547,"h":0.7642,"l":0.7286,"c":0.7428},
{"i":210,"o":0.7428,"h":0.7595,"l":0.7405,"c":0.7547},
{"i":211,"o":0.7523,"h":0.7642,"l":0.7428,"c":0.7452},
{"i":212,"o":0.7452,"h":0.7595,"l":0.7428,"c":0.7523},
{"i":213,"o":0.7523,"h":0.7571,"l":0.7405,"c":0.7452},
{"i":214,"o":0.7452,"h":0.7523,"l":0.7262,"c":0.7286},
{"i":215,"o":0.7286,"h":0.7452,"l":0.7215,"c":0.7262},
{"i":216,"o":0.7191,"h":0.7238,"l":0.6597,"c":0.6835},
{"i":217,"o":0.6811,"h":0.7072,"l":0.6763,"c":0.693},
{"i":218,"o":0.693,"h":0.7025,"l":0.6882,"c":0.6977},
{"i":219,"o":0.6953,"h":0.7215,"l":0.6811,"c":0.6977},
{"i":220,"o":0.6977,"h":0.7001,"l":0.674,"c":0.6835},
{"i":221,"o":0.6835,"h":0.6953,"l":0.6811,"c":0.693},
{"i":222,"o":0.693,"h":0.6977,"l":0.6882,"c":0.6906},
{"i":223,"o":0.6906,"h":0.6977,"l":0.6882,"c":0.693},
{"i":224,"o":0.6906,"h":0.7048,"l":0.6882,"c":0.6977},
{"i":225,"o":0.6977,"h":0.7072,"l":0.6906,"c":0.693},
{"i":226,"o":0.6953,"h":0.7072,"l":0.693,"c":0.7001},
{"i":227,"o":0.6977,"h":0.7167,"l":0.6953,"c":0.7143},
{"i":228,"o":0.7143,"h":0.7547,"l":0.712,"c":0.75},
{"i":229,"o":0.75,"h":0.7547,"l":0.7405,"c":0.7452},
{"i":230,"o":0.7476,"h":0.7523,"l":0.7405,"c":0.7428},
{"i":231,"o":0.7452,"h":0.75,"l":0.7357,"c":0.7405},
{"i":232,"o":0.7357,"h":0.7476,"l":0.7262,"c":0.7405},
{"i":233,"o":0.7381,"h":0.7405,"l":0.7167,"c":0.7262},
{"i":234,"o":0.7238,"h":0.7405,"l":0.7191,"c":0.7333},
{"i":235,"o":0.7333,"h":0.7452,"l":0.731,"c":0.7357},
{"i":236,"o":0.7333,"h":0.7452,"l":0.7167,"c":0.7191},
{"i":237,"o":0.7238,"h":0.7357,"l":0.7096,"c":0.7191},
{"i":238,"o":0.7191,"h":0.7405,"l":0.7143,"c":0.7286},
{"i":239,"o":0.7333,"h":0.7357,"l":0.7191,"c":0.7286},
{"i":240,"o":0.7191,"h":0.7381,"l":0.7167,"c":0.7333},
{"i":241,"o":0.7333,"h":0.7642,"l":0.731,"c":0.7595},
{"i":242,"o":0.7571,"h":0.7808,"l":0.75,"c":0.7595},
{"i":243,"o":0.7595,"h":0.7808,"l":0.7452,"c":0.75},
{"i":244,"o":0.7547,"h":0.7642,"l":0.7405,"c":0.7428},
{"i":245,"o":0.7452,"h":0.75,"l":0.731,"c":0.7428},
{"i":246,"o":0.7428,"h":0.7452,"l":0.7357,"c":0.7405},
{"i":247,"o":0.7428,"h":0.7452,"l":0.7143,"c":0.7167},
{"i":248,"o":0.7167,"h":0.7215,"l":0.7048,"c":0.7096},
{"i":249,"o":0.7072,"h":0.7096,"l":0.6835,"c":0.6858},
{"i":250,"o":0.6906,"h":0.6953,"l":0.6763,"c":0.6787},
{"i":251,"o":0.6858,"h":0.693,"l":0.6811,"c":0.6882},
{"i":252,"o":0.693,"h":0.6977,"l":0.6835,"c":0.6882},
{"i":253,"o":0.6906,"h":0.693,"l":0.6621,"c":0.6645},
{"i":254,"o":0.6692,"h":0.674,"l":0.6502,"c":0.6597},
{"i":255,"o":0.6597,"h":0.6835,"l":0.6573,"c":0.674},
{"i":256,"o":0.6716,"h":0.6835,"l":0.6502,"c":0.6811},
{"i":257,"o":0.674,"h":0.6787,"l":0.655,"c":0.6573},
{"i":258,"o":0.6573,"h":0.6835,"l":0.655,"c":0.674},
{"i":259,"o":0.674,"h":0.6835,"l":0.6526,"c":0.655},
{"i":260,"o":0.6573,"h":0.6621,"l":0.6455,"c":0.6478},
{"i":261,"o":0.6478,"h":0.6502,"l":0.6336,"c":0.6383},
{"i":262,"o":0.6431,"h":0.6455,"l":0.6312,"c":0.636},
{"i":263,"o":0.6431,"h":0.655,"l":0.6407,"c":0.6526},
{"i":264,"o":0.6526,"h":0.6668,"l":0.6502,"c":0.6645},
{"i":265,"o":0.6645,"h":0.674,"l":0.6597,"c":0.6692},
{"i":266,"o":0.6692,"h":0.6716,"l":0.6597,"c":0.6645},
{"i":267,"o":0.6645,"h":0.6668,"l":0.655,"c":0.6573},
{"i":268,"o":0.6573,"h":0.6621,"l":0.636,"c":0.6383},
{"i":269,"o":0.6383,"h":0.6431,"l":0.6075,"c":0.6312},
{"i":270,"o":0.6336,"h":0.6383,"l":0.6217,"c":0.6241},
{"i":271,"o":0.6241,"h":0.6336,"l":0.6217,"c":0.6288},
{"i":272,"o":0.6288,"h":0.6312,"l":0.6217,"c":0.6241},
{"i":273,"o":0.6241,"h":0.6407,"l":0.6217,"c":0.6336},
{"i":274,"o":0.6312,"h":0.6407,"l":0.6288,"c":0.6336},
{"i":275,"o":0.6312,"h":0.6407,"l":0.6241,"c":0.6265},
{"i":276,"o":0.6265,"h":0.6288,"l":0.6146,"c":0.617},
{"i":277,"o":0.6193,"h":0.6217,"l":0.6003,"c":0.6027},
{"i":278,"o":0.6027,"h":0.6075,"l":0.5837,"c":0.598},
{"i":279,"o":0.6003,"h":0.6051,"l":0.5861,"c":0.5885},
{"i":280,"o":0.5885,"h":0.5908,"l":0.5813,"c":0.5837},
{"i":281,"o":0.5837,"h":0.5894,"l":0.579,"c":0.5861},
{"i":282,"o":0.5837,"h":0.5861,"l":0.5742,"c":0.5766},
{"i":283,"o":0.5766,"h":0.579,"l":0.56,"c":0.5718},
{"i":284,"o":0.57208,"h":0.57566,"l":0.57018,"c":0.57429}
]
},
"vconcat":[
{
 "width":2894,"height":1559,
 "layer":[
  {"data":{"values":[{"x":88.1,"x2":98.5,"y":0.59063,"y2":0.58818},{"x":136.6,"x2":147.1,"y":0.58588,"y2":0.58343},{"x":109.6,"x2":120.1,"y":0.57871,"y2":0.57627},{"x":220.1,"x2":230.6,"y":0.57744,"y2":0.57499},{"x":168.1,"x2":178.6,"y":0.57209,"y2":0.56962},{"x":275.6,"x2":288.6,"y":0.57116,"y2":0.56915},{"x":234.6,"x2":245.1,"y":0.56495,"y2":0.5625}]},
   "mark":{"type":"rect","color":"#fddeb1"},
   "encoding":{
    "x":{"field":"x","type":"quantitative","scale":{"domain":[-0.25,361.5],"nice":false,"zero":false},
     "axis":{"orient":"bottom","values":[0,24,48,72,96,120,144,168,192,216,240,264,288],"labelExpr":"['27 Jun 2025','9 Jul 16:00','21 Jul 16:00','31 Jul 16:00','12 Aug 16:00','22 Aug 16:00','3 Sep 16:00','15 Sep 16:00','25 Sep 16:00','7 Oct 16:00','17 Oct 16:00','29 Oct 16:00','10 Nov 16:00'][round(datum.value/24)]","labelAlign":"left","labelBaseline":"top","labelPadding":3,"labelFlush":false,"tickSize":7}},
    "x2":{"field":"x2"},
    "y":{"field":"y","type":"quantitative","scale":{"domain":[0.559396,0.591475],"nice":false,"zero":false},
     "axis":{"orient":"right","values":[0.5608,0.5628,0.5648,0.5668,0.5688,0.5708,0.5728,0.5748,0.5768,0.5788,0.5808,0.5828,0.5848,0.5868,0.5888,0.5908],"format":".5f","labelPadding":11,"tickSize":6}},
    "y2":{"field":"y2"}}},
  {"data":{"name":"h4"},"mark":{"type":"rule","strokeWidth":1.5},
   "encoding":{"x":{"field":"i","type":"quantitative"},"y":{"field":"l","type":"quantitative"},"y2":{"field":"h"},
    "color":{"condition":{"test":"datum.c>=datum.o","value":"#0000ff"},"value":"#ff0000"}}},
  {"data":{"name":"h4"},"mark":{"type":"bar","width":5,"orient":"vertical"},
   "encoding":{"x":{"field":"i","type":"quantitative"},"y":{"field":"o","type":"quantitative"},"y2":{"field":"c"},
    "color":{"condition":{"test":"datum.c>=datum.o","value":"#0000ff"},"value":"#ff0000"}}},
  {"data":{"values":[{"x":90.6,"y":0.58973,"x2":307.1,"y2":0.56723},{"x":62.6,"y":0.58221,"x2":285,"y2":0.55988}]},
   "mark":{"type":"rule","color":"#000000","strokeWidth":2.5},
   "encoding":{"x":{"field":"x","type":"quantitative"},"y":{"field":"y","type":"quantitative"},"x2":{"field":"x2"},"y2":{"field":"y2"}}},
  {"data":{"values":[{"x":245.4,"y":0.58067,"x2":261.6,"y2":0.57223},{"x":290.75,"y":0.56995,"x2":307.9,"y2":0.56982}]},
   "mark":{"type":"rule","color":"#808080","strokeWidth":3},
   "encoding":{"x":{"field":"x","type":"quantitative"},"y":{"field":"y","type":"quantitative"},"x2":{"field":"x2"},"y2":{"field":"y2"}}},
  {"data":{"values":[{"p":0.5743}]},"mark":{"type":"rule","color":"#97a1b3","strokeWidth":1.2},
   "encoding":{"y":{"field":"p","type":"quantitative"}}},
  {"data":{"values":[{"x":0.75,"y":0.59102,"t":"▼"}]},
   "mark":{"type":"text","font":"DejaVu Sans","fontSize":16,"align":"left","baseline":"middle","color":"#000000"},
   "encoding":{"x":{"field":"x","type":"quantitative"},"y":{"field":"y","type":"quantitative"},"text":{"field":"t"}}},
  {"data":{"values":[{"x":5,"y":0.59102,"t":"CADCHF,H4  0.57433 0.57451 0.57389 0.57430"}]},
   "mark":{"type":"text","font":"DejaVu Sans","fontSize":24,"align":"left","baseline":"middle","color":"#000000"},
   "encoding":{"x":{"field":"x","type":"quantitative"},"y":{"field":"y","type":"quantitative"},"text":{"field":"t"}}},
  {"data":{"values":[{"x":254.5,"y":0.58623,"t":"CADCHF Analysis: 4-hour Timeframe"}]},
   "mark":{"type":"text","font":"Lato","fontWeight":"bold","fontSize":80,"align":"center","baseline":"alphabetic","color":"#000000"},
   "encoding":{"x":{"field":"x","type":"quantitative"},"y":{"field":"y","type":"quantitative"},"text":{"field":"t"}}},
  {"data":{"values":[{"x":248.5,"y":0.58133,"t":"1. Breakout"},{"x":331.5,"y":0.56925,"t":"2. Retest"}]},
   "mark":{"type":"text","font":"Lato","fontWeight":"bold","fontSize":86,"align":"center","baseline":"alphabetic","color":"#000000"},
   "encoding":{"x":{"field":"x","type":"quantitative"},"y":{"field":"y","type":"quantitative"},"text":{"field":"t"}}},
  {"data":{"values":[{"x":361.5,"x2":376.6,"y":0.57459,"y2":0.57401}]},
   "mark":{"type":"rect","color":"#000000"},
   "encoding":{"x":{"field":"x","type":"quantitative"},"x2":{"field":"x2"},"y":{"field":"y","type":"quantitative"},"y2":{"field":"y2"}}},
  {"data":{"values":[{"x":363.2,"y":0.5743,"t":"0.57430"}]},
   "mark":{"type":"text","font":"DejaVu Sans","fontSize":24,"align":"left","baseline":"middle","color":"#ffffff"},
   "encoding":{"x":{"field":"x","type":"quantitative"},"y":{"field":"y","type":"quantitative"},"text":{"field":"t"}}}
 ]
},
{
 "width":2900,"height":1552,
 "layer":[
  {"data":{"values":[{"x":148,"x2":157,"y":0.8886,"y2":0.8557},{"x":151,"x2":160,"y":0.7416,"y2":0.7082},{"x":211,"x2":220,"y":0.6686,"y2":0.6357},{"x":238,"x2":247.1,"y":0.7841,"y2":0.7507},{"x":278,"x2":287,"y":0.5832,"y2":0.5502}]},
   "mark":{"type":"rect","color":"#fddeb1"},
   "encoding":{
    "x":{"field":"x","type":"quantitative","scale":{"domain":[-1.25,361.25],"nice":false,"zero":false},
     "axis":{"orient":"bottom","values":[0,24,48,72,96,120,144,168,192,216,240,264],"labelExpr":"['1 May 2002','1 May 2004','1 May 2006','1 May 2008','1 Jul 2010','1 Mar 2012','1 Mar 2014','1 Mar 2016','1 Mar 2018','1 Mar 2020','1 Mar 2022','1 Mar 2024'][round(datum.value/24)]","labelAlign":"left","labelBaseline":"top","labelPadding":7,"labelFlush":false,"tickSize":7}},
    "x2":{"field":"x2"},
    "y":{"field":"y","type":"quantitative","scale":{"domain":[0.5459,1.2867],"nice":false,"zero":false},
     "axis":{"orient":"right","values":[0.6211,0.66745,0.7138,0.76015,0.8065,0.85285,0.8992,0.94555,0.9919,1.03825,1.0846,1.13095,1.1773,1.22365,1.27],"format":".5f","labelPadding":11,"tickSize":6}},
    "y2":{"field":"y2"}}},
  {"data":{"name":"mn"},"mark":{"type":"rule","strokeWidth":1.5},
   "encoding":{"x":{"field":"i","type":"quantitative"},"y":{"field":"l","type":"quantitative"},"y2":{"field":"h"},
    "color":{"condition":{"test":"datum.c>=datum.o","value":"#0000ff"},"value":"#ff0000"}}},
  {"data":{"name":"mn"},"mark":{"type":"bar","width":5,"orient":"vertical"},
   "encoding":{"x":{"field":"i","type":"quantitative"},"y":{"field":"o","type":"quantitative"},"y2":{"field":"c"},
    "color":{"condition":{"test":"datum.c>=datum.o","value":"#0000ff"},"value":"#ff0000"}}},
  {"data":{"values":[{"x":151,"y":0.8758,"x2":342,"y2":0.6395},{"x":143.1,"y":0.7454,"x2":305.6,"y2":0.5469}]},
   "mark":{"type":"rule","color":"#000000","strokeWidth":2.5},
   "encoding":{"x":{"field":"x","type":"quantitative"},"y":{"field":"y","type":"quantitative"},"x2":{"field":"x2"},"y2":{"field":"y2"}}},
  {"data":{"values":[{"x":158.75,"y":0.8877,"x2":222,"y2":0.9664},{"x":234.25,"y":0.9483,"x2":240.6,"y2":0.7889},{"x":157.1,"y":0.6987,"x2":158.25,"y2":0.6256},{"x":199.25,"y":0.6104,"x2":209.25,"y2":0.6409},{"x":201.9,"y":0.5884,"x2":273.9,"y2":0.5593}]},
   "mark":{"type":"rule","color":"#808080","strokeWidth":3},
   "encoding":{"x":{"field":"x","type":"quantitative"},"y":{"field":"y","type":"quantitative"},"x2":{"field":"x2"},"y2":{"field":"y2"}}},
  {"data":{"values":[{"p":0.57429}]},"mark":{"type":"rule","color":"#97a1b3","strokeWidth":1.2},
   "encoding":{"y":{"field":"p","type":"quantitative"}}},
  {"data":{"values":[{"x":150,"x2":300.75,"y":1.1168,"y2":1.0275}]},
   "mark":{"type":"rect","color":"#121722"},
   "encoding":{"x":{"field":"x","type":"quantitative"},"x2":{"field":"x2"},"y":{"field":"y","type":"quantitative"},"y2":{"field":"y2"}}},
  {"data":{"values":[{"x":150,"x2":300.75,"y":1.1087},{"x":150,"x2":300.75,"y":1.0361}]},
   "mark":{"type":"rule","color":"#2c3342","strokeWidth":3},
   "encoding":{"x":{"field":"x","type":"quantitative"},"x2":{"field":"x2"},"y":{"field":"y","type":"quantitative"}}},
  {"data":{"values":[{"x":155.75,"y":1.0767,"t":"CADCHF,"}]},
   "mark":{"type":"text","font":"Liberation Sans Narrow, Roboto Condensed, Roboto","fontWeight":"bold","fontSize":52,"align":"left","baseline":"alphabetic","color":"#ffffff"},
   "encoding":{"x":{"field":"x","type":"quantitative"},"y":{"field":"y","type":"quantitative"},"text":{"field":"t"}}},
  {"data":{"values":[{"x":180.6,"y":1.0767,"t":"buy 2.85"}]},
   "mark":{"type":"text","font":"Liberation Sans Narrow, Roboto Condensed, Roboto","fontSize":54,"align":"left","baseline":"alphabetic","color":"#6f8ff0"},
   "encoding":{"x":{"field":"x","type":"quantitative"},"y":{"field":"y","type":"quantitative"},"text":{"field":"t"}}},
  {"data":{"values":[{"x":295.25,"y":1.0767,"t":"2025.11.13 17:40:06"}]},
   "mark":{"type":"text","font":"Liberation Sans Narrow, Roboto Condensed, Roboto","fontSize":50,"align":"right","baseline":"alphabetic","color":"#a3a3a3"},
   "encoding":{"x":{"field":"x","type":"quantitative"},"y":{"field":"y","type":"quantitative"},"text":{"field":"t"}}},
  {"data":{"values":[{"x":155.75,"y":1.049,"t":"0.57292 → 0.56550"}]},
   "mark":{"type":"text","font":"Liberation Sans Narrow, Roboto Condensed, Roboto","fontWeight":"bold","fontSize":52,"align":"left","baseline":"alphabetic","color":"#a6a6a6"},
   "encoding":{"x":{"field":"x","type":"quantitative"},"y":{"field":"y","type":"quantitative"},"text":{"field":"t"}}},
  {"data":{"values":[{"x":295,"y":1.049,"t":"-2 672.71"}]},
   "mark":{"type":"text","font":"Liberation Sans Narrow, Roboto Condensed, Roboto","fontWeight":"bold","fontSize":52,"align":"right","baseline":"alphabetic","color":"#e05f5f"},
   "encoding":{"x":{"field":"x","type":"quantitative"},"y":{"field":"y","type":"quantitative"},"text":{"field":"t"}}},
  {"data":{"values":[{"x":0.75,"y":1.2772,"t":"▼"}]},
   "mark":{"type":"text","font":"DejaVu Sans","fontSize":16,"align":"left","baseline":"middle","color":"#000000"},
   "encoding":{"x":{"field":"x","type":"quantitative"},"y":{"field":"y","type":"quantitative"},"text":{"field":"t"}}},
  {"data":{"values":[{"x":4.75,"y":1.2772,"t":"CADCHF,Monthly  0.57208 0.57566 0.57018 0.57429"}]},
   "mark":{"type":"text","font":"DejaVu Sans","fontSize":24,"align":"left","baseline":"middle","color":"#000000"},
   "encoding":{"x":{"field":"x","type":"quantitative"},"y":{"field":"y","type":"quantitative"},"text":{"field":"t"}}},
  {"data":{"values":[{"x":224.75,"y":1.1459,"t":"CADCHF Analysis: Monthly Timeframe"}]},
   "mark":{"type":"text","font":"Lato","fontWeight":"bold","fontSize":69,"align":"center","baseline":"alphabetic","color":"#000000"},
   "encoding":{"x":{"field":"x","type":"quantitative"},"y":{"field":"y","type":"quantitative"},"text":{"field":"t"}}},
  {"data":{"values":[{"x":253.4,"y":0.9655,"t":"lower highs"},{"x":171,"y":0.5827,"t":"lower lows"}]},
   "mark":{"type":"text","font":"Lato","fontWeight":"bold","fontSize":87,"align":"center","baseline":"alphabetic","color":"#000000"},
   "encoding":{"x":{"field":"x","type":"quantitative"},"y":{"field":"y","type":"quantitative"},"text":{"field":"t"}}},
  {"data":{"values":[{"x":361.25,"x2":376.1,"y":0.58097,"y2":0.56761}]},
   "mark":{"type":"rect","color":"#000000"},
   "encoding":{"x":{"field":"x","type":"quantitative"},"x2":{"field":"x2"},"y":{"field":"y","type":"quantitative"},"y2":{"field":"y2"}}},
  {"data":{"values":[{"x":362.5,"y":0.57429,"t":"0.57429"}]},
   "mark":{"type":"text","font":"DejaVu Sans","fontSize":24,"align":"left","baseline":"middle","color":"#ffffff"},
   "encoding":{"x":{"field":"x","type":"quantitative"},"y":{"field":"y","type":"quantitative"},"text":{"field":"t"}}}
 ]
}
]
}
